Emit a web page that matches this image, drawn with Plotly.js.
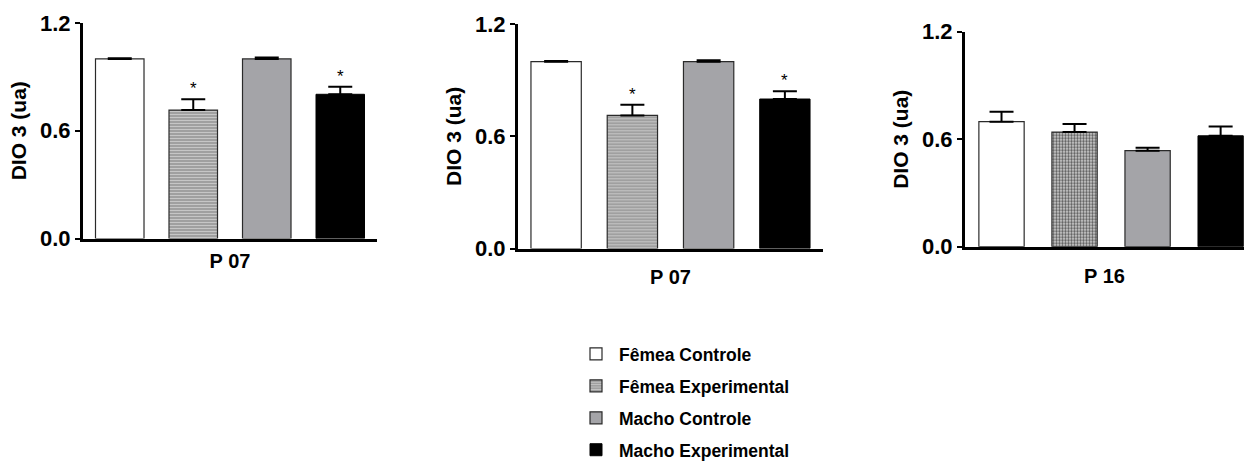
<!DOCTYPE html>
<html>
<head>
<meta charset="utf-8">
<script src="https://cdn.plot.ly/plotly-3.0.1.min.js"></script>
<style>html,body{margin:0;padding:0;background:#fff;}#chart{width:1244px;height:463px;}</style>
</head>
<body>
<div id="chart"></div>
<script>
// ---- data ----
const categories = ['Fêmea Controle', 'Fêmea Experimental', 'Macho Controle', 'Macho Experimental'];
const panelLabels = ['P 07', 'P 07', 'P 16'];
const yAxisTitle = 'DIO 3 (ua)';
const yTickVals = [0, 0.6, 1.2];

const p1Values = [1.0, 0.715, 1.0, 0.803];
const p1Errors = [0.004, 0.060, 0.008, 0.042];
const p1Stars  = ['', '*', '', '*'];

const p2Values = [1.0, 0.712, 1.0, 0.800];
const p2Errors = [0.004, 0.057, 0.008, 0.041];
const p2Stars  = ['', '*', '', '*'];

const p3Values = [0.698, 0.640, 0.536, 0.619];
const p3Errors = [0.055, 0.045, 0.016, 0.052];
const p3Stars  = ['', '', '', ''];

// ---- styles ----
const FONT = 'Liberation Sans, Arial, Helvetica, sans-serif';
const outline = {color: '#2a2a2a', width: 1.2};
function markerFor(i, panel) {
  if (i === 0) return {color: '#ffffff', line: outline};
  if (i === 1) {
    if (panel === 2) return {color: '#a8a8a8', line: outline,
      pattern: {shape: '.', bgcolor: '#d8d8d8', fgcolor: '#5a5a5a', size: 3, solidity: 0.5}};
    return {color: '#a0a0a0', line: outline,
      pattern: {shape: '-', bgcolor: '#9c9c9c', fgcolor: '#c6c6c6', size: 3, solidity: 0.4}};
  }
  if (i === 2) return {color: '#a4a4a8', line: outline};
  return {color: '#000000', line: {color: '#000', width: 1}};
}

const panels = [
  {vals: p1Values, errs: p1Errors, stars: p1Stars, width: 0.66, standoff: 14},
  {vals: p2Values, errs: p2Errors, stars: p2Stars, width: 0.66, standoff: 20},
  {vals: p3Values, errs: p3Errors, stars: p3Stars, width: 0.62, standoff: 21}
];

const traces = [];
const annotations = [];
panels.forEach((p, pi) => {
  const xa = pi === 0 ? 'x' : 'x' + (pi + 1);
  const ya = pi === 0 ? 'y' : 'y' + (pi + 1);
  categories.forEach((c, i) => {
    traces.push({
      type: 'bar', name: c, x: [c], y: [p.vals[i]],
      xaxis: xa, yaxis: ya, width: p.width,
      marker: markerFor(i, pi),
      error_y: {type: 'data', symmetric: false, array: [p.errs[i]], arrayminus: [0],
                color: '#000', thickness: 2, width: 12},
      legendgroup: 'g' + i, showlegend: pi === 1, hoverinfo: 'skip'
    });
    if (p.stars[i]) {
      annotations.push({xref: xa, yref: ya, x: c, y: p.vals[i] + p.errs[i], text: p.stars[i],
        showarrow: false, yanchor: 'bottom', yshift: -1,
        font: {family: FONT, size: 17, color: '#000'}});
    }
  });
});

const xDomains = [[83/1244, 377/1244], [518/1244, 823/1244], [965/1244, 1]];
const yDomains = [[1 - 238.5/463, 1 - 23/463], [1 - 248.5/463, 1 - 24.3/463], [1 - 246.7/463, 1 - 31.7/463]];
const xRanges = [[-0.5, 3.5], [-0.5, 3.5], [-0.5, 3.32]];

const layout = {
  width: 1244, height: 463,
  margin: {l: 0, r: 0, t: 0, b: 0, autoexpand: false},
  paper_bgcolor: '#fff', plot_bgcolor: 'rgba(0,0,0,0)',
  barmode: 'overlay',
  showlegend: true,
  legend: {x: 573/1244, y: 1 - 336/463, xanchor: 'left', yanchor: 'top',
           font: {family: FONT, size: 17.5, color: '#000', weight: 'bold'},
           itemwidth: 36,
           traceorder: 'grouped', tracegroupgap: 6.2, bgcolor: 'rgba(0,0,0,0)'},
  annotations: annotations
};
for (let k = 0; k < 3; k++) {
  const xn = k === 0 ? 'xaxis' : 'xaxis' + (k + 1);
  const yn = k === 0 ? 'yaxis' : 'yaxis' + (k + 1);
  layout[xn] = {domain: xDomains[k], anchor: k === 0 ? 'y' : 'y' + (k + 1),
    type: 'category', categoryarray: categories, range: xRanges[k],
    showline: true, linecolor: '#000', linewidth: 3, showgrid: false, zeroline: false,
    showticklabels: false, ticks: '', fixedrange: true,
    title: {text: panelLabels[k], standoff: panels[k].standoff, font: {family: FONT, size: 20, color: '#000', weight: 'bold'}}};
  layout[yn] = {domain: yDomains[k], anchor: k === 0 ? 'x' : 'x' + (k + 1),
    range: [0, 1.2], tickvals: yTickVals, tickformat: '.1f',
    showline: true, linecolor: '#000', linewidth: 3, showgrid: false, zeroline: false,
    ticks: 'outside', ticklen: 5, tickwidth: 2, tickcolor: '#000', fixedrange: true,
    tickfont: {family: FONT, size: 22, color: '#000', weight: 'bold'},
    title: {text: yAxisTitle, standoff: 8, font: {family: FONT, size: 21, color: '#000', weight: 'bold'}}};
}

Plotly.newPlot('chart', traces, layout, {staticPlot: true, displayModeBar: false});
</script>
</body>
</html>
